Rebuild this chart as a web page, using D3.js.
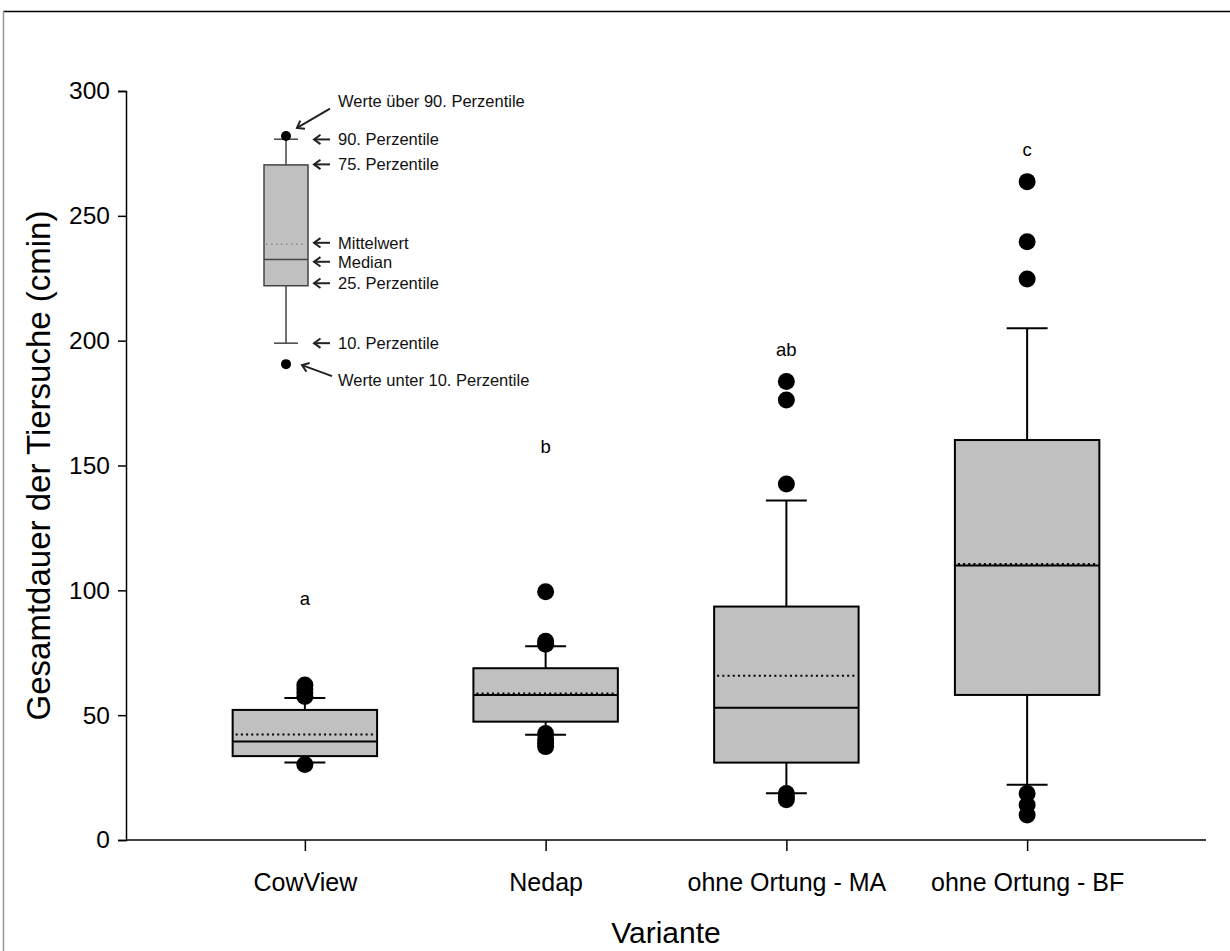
<!DOCTYPE html>
<html>
<head>
<meta charset="utf-8">
<script src="https://cdn.jsdelivr.net/npm/d3@7"></script>
<style>
  body { margin: 0; background: #fff; }
  svg text { font-family: "Liberation Sans", Arial, sans-serif; }
</style>
</head>
<body>
<div id="chart"></div>
<script>
const width = 1230, height = 951
const margin = { top: 91, right: 24, bottom: 111, left: 126 }

// data
const categories = ["CowView", "Nedap", "ohne Ortung - MA", "ohne Ortung - BF"]
const p10 = [31, 42.2, 18.7, 22.1]
const q1 = [33.6, 47.4, 31, 58.1]
const median = [39.5, 58.1, 53, 109.9]
const mean = [42.3, 58.7, 65.8, 110.5]
const q3 = [52.1, 68.8, 93.5, 160.2]
const p90 = [56.9, 77.6, 136, 205]
const outliers = [
  [62.1, 60.5, 59, 57.5, 30.2],
  [99.4, 79.6, 78.4, 42.7, 40.5, 38.8, 37.4],
  [183.6, 176.2, 142.6, 18.6, 17.3, 16.1],
  [263.7, 239.6, 224.7, 18.6, 14, 10]
]
const letters = ["a", "b", "ab", "c"]
const letterPos = [94, 155, 194, 274]
const yTicks = [0, 50, 100, 150, 200, 250, 300]

// legend (explanation box) values
const legendStats = { p10: 199, q1: 222, median: 232.5, mean: 238.6, q3: 270.4, p90: 280.7 }
const legendDots = [282, 190.6]
const legendLabels = ["Werte über 90. Perzentile", "90. Perzentile", "75. Perzentile", "Mittelwert",
  "Median", "25. Perzentile", "10. Perzentile", "Werte unter 10. Perzentile"]
const legendLabelPos = [296.1, 280.6, 270.6, 239.2, 231.6, 223, 199, 184.2]

const svg = d3.select("#chart").append("svg")
  .attr("width", width)
  .attr("height", height)

// outer frame edges
svg.append("line").attr("x1", 3).attr("x2", width).attr("y1", 11.5).attr("y2", 11.5)
  .attr("stroke", "#000").attr("stroke-width", 1.5)
svg.append("line").attr("x1", 3.5).attr("x2", 3.5).attr("y1", 11).attr("y2", height)
  .attr("stroke", "#999").attr("stroke-width", 1.5)

const x = d3.scalePoint()
  .domain(categories)
  .range([margin.left, width - margin.right])
  .padding(0.743)
const step = x.step()

const y = d3.scaleLinear().domain([0, 300]).range([height - margin.bottom, margin.top])

// y axis
const yAxis = svg.append("g")
  .attr("transform", `translate(${margin.left},0)`)
  .call(d3.axisLeft(y).tickValues(yTicks).tickSize(8).tickPadding(8))
yAxis.select(".domain").attr("stroke-width", 1.5)
yAxis.selectAll(".tick line").attr("stroke-width", 1.5)
yAxis.selectAll("text").attr("font-size", "24.5px").attr("fill", "#000")
  .style("font-family", "Liberation Sans, Arial, sans-serif")

// x axis
const xAxis = svg.append("g")
  .attr("transform", `translate(0,${y(0)})`)
  .call(d3.axisBottom(x).tickSize(11).tickSizeOuter(0).tickPadding(22))
xAxis.select(".domain").attr("stroke-width", 1.5)
  .attr("d", `M${margin.left},0H${width - margin.right}`)
xAxis.selectAll(".tick line").attr("stroke-width", 1.5)
xAxis.selectAll("text").attr("font-size", "25px").attr("fill", "#000")
  .style("font-family", "Liberation Sans, Arial, sans-serif")

// axis titles
svg.append("text")
  .attr("x", 666).attr("y", 943)
  .attr("text-anchor", "middle")
  .attr("font-size", "30px")
  .text("Variante")

svg.append("text")
  .attr("transform", `translate(50,${(y(0) + y(300)) / 2}) rotate(-90)`)
  .attr("text-anchor", "middle")
  .attr("font-size", "33px")
  .text("Gesamtdauer der Tiersuche (cmin)")

// boxes
const boxW = step * 0.6, capW = step * 0.17
categories.forEach((c, i) => {
  const cx = x(c)
  const g = svg.append("g")
  // whiskers
  g.append("line").attr("x1", cx).attr("x2", cx).attr("y1", y(q3[i])).attr("y2", y(p90[i]))
    .attr("stroke", "#000").attr("stroke-width", 2)
  g.append("line").attr("x1", cx).attr("x2", cx).attr("y1", y(q1[i])).attr("y2", y(p10[i]))
    .attr("stroke", "#000").attr("stroke-width", 2)
  g.append("line").attr("x1", cx - capW / 2).attr("x2", cx + capW / 2)
    .attr("y1", y(p90[i])).attr("y2", y(p90[i])).attr("stroke", "#000").attr("stroke-width", 2)
  g.append("line").attr("x1", cx - capW / 2).attr("x2", cx + capW / 2)
    .attr("y1", y(p10[i])).attr("y2", y(p10[i])).attr("stroke", "#000").attr("stroke-width", 2)
  // box
  g.append("rect")
    .attr("x", cx - boxW / 2).attr("width", boxW)
    .attr("y", y(q3[i])).attr("height", y(q1[i]) - y(q3[i]))
    .attr("fill", "#c0c0c0").attr("stroke", "#000").attr("stroke-width", 2)
  g.append("line").attr("x1", cx - boxW / 2).attr("x2", cx + boxW / 2)
    .attr("y1", y(median[i])).attr("y2", y(median[i])).attr("stroke", "#000").attr("stroke-width", 2)
  g.append("line").attr("x1", cx - boxW / 2 + 3).attr("x2", cx + boxW / 2 - 2)
    .attr("y1", y(mean[i])).attr("y2", y(mean[i])).attr("stroke", "#000").attr("stroke-width", 2)
    .attr("stroke-dasharray", "2,3.2")
  // outliers
  g.selectAll("circle").data(outliers[i]).enter().append("circle")
    .attr("cx", cx).attr("cy", d => y(d)).attr("r", 8.5).attr("fill", "#000")
  // significance letters
  g.append("text").attr("x", cx).attr("y", y(letterPos[i]))
    .attr("text-anchor", "middle").attr("font-size", "18.5px").text(letters[i])
})

// explanation box
const lx = 286, lw = 44, lcap = 24
const leg = svg.append("g")
leg.append("line").attr("x1", lx).attr("x2", lx).attr("y1", y(legendStats.q3)).attr("y2", y(legendStats.p90))
  .attr("stroke", "#444").attr("stroke-width", 1.5)
leg.append("line").attr("x1", lx).attr("x2", lx).attr("y1", y(legendStats.q1)).attr("y2", y(legendStats.p10))
  .attr("stroke", "#444").attr("stroke-width", 1.5)
;[legendStats.p90, legendStats.p10].forEach(v => {
  leg.append("line").attr("x1", lx - lcap / 2).attr("x2", lx + lcap / 2).attr("y1", y(v)).attr("y2", y(v))
    .attr("stroke", "#444").attr("stroke-width", 1.5)
})
leg.append("rect").attr("x", lx - lw / 2).attr("width", lw)
  .attr("y", y(legendStats.q3)).attr("height", y(legendStats.q1) - y(legendStats.q3))
  .attr("fill", "#c0c0c0").attr("stroke", "#444").attr("stroke-width", 1.5)
leg.append("line").attr("x1", lx - lw / 2).attr("x2", lx + lw / 2)
  .attr("y1", y(legendStats.median)).attr("y2", y(legendStats.median)).attr("stroke", "#444").attr("stroke-width", 1.5)
leg.append("line").attr("x1", lx - lw / 2 + 2).attr("x2", lx + lw / 2 - 2)
  .attr("y1", y(legendStats.mean)).attr("y2", y(legendStats.mean)).attr("stroke", "#888").attr("stroke-width", 1.5)
  .attr("stroke-dasharray", "1.5,3.5")
leg.selectAll("circle").data(legendDots).enter().append("circle")
  .attr("cx", lx).attr("cy", d => y(d)).attr("r", 5).attr("fill", "#000")

// labels and arrows
const arrowHead = (x0, y0, ang) => {
  const a1 = ang + Math.PI / 5, a2 = ang - Math.PI / 5, L = 8
  return `M${x0 + L * Math.cos(a1)},${y0 + L * Math.sin(a1)}L${x0},${y0}L${x0 + L * Math.cos(a2)},${y0 + L * Math.sin(a2)}`
}
legendLabels.forEach((t, i) => {
  const ty = y(legendLabelPos[i])
  leg.append("text").attr("x", 338).attr("y", ty).attr("dy", "0.36em")
    .attr("font-size", "16.5px").attr("fill", "#111").text(t)
  if (i > 0 && i < legendLabels.length - 1) {
    leg.append("line").attr("x1", 314).attr("x2", 330).attr("y1", ty).attr("y2", ty)
      .attr("stroke", "#222").attr("stroke-width", 2)
    leg.append("path").attr("d", arrowHead(314, ty, 0))
      .attr("fill", "none").attr("stroke", "#222").attr("stroke-width", 2)
  }
})
// diagonal arrows to the dots
const diag = [[330, y(legendLabelPos[0]) + 8, 297, y(legendDots[0]) - 8],
              [332, y(legendLabelPos[7]) - 4, 302, y(legendDots[1]) + 1]]
diag.forEach(([x1, y1, x2, y2]) => {
  leg.append("line").attr("x1", x1).attr("x2", x2).attr("y1", y1).attr("y2", y2)
    .attr("stroke", "#222").attr("stroke-width", 2)
  const ang = Math.atan2(y1 - y2, x1 - x2)
  leg.append("path").attr("d", arrowHead(x2, y2, ang))
    .attr("fill", "none").attr("stroke", "#222").attr("stroke-width", 2)
})
</script>
</body>
</html>
